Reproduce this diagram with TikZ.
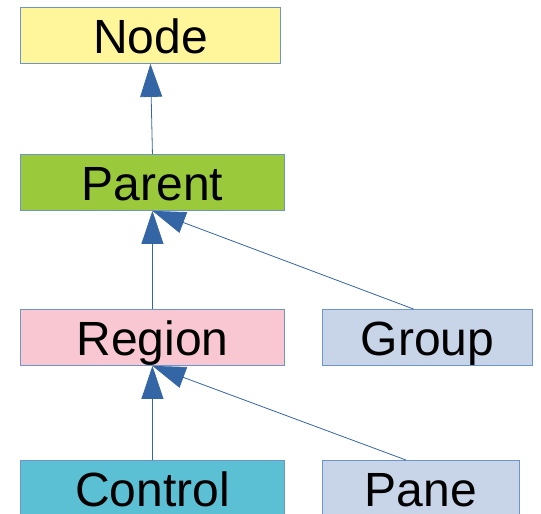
\documentclass[tikz,border=0pt]{standalone}
\usepackage{fontspec}
\setmainfont{Liberation Sans}
\usepackage{xcolor}
\usetikzlibrary{
    positioning,
    arrows.meta,
}
\definecolor{nodeYellow}{HTML}{FFF59A}
\definecolor{parentGreen}{HTML}{9ACA3C}
\definecolor{regionPink}{HTML}{F8C7D2}
\definecolor{paleBlue}{HTML}{C8D5E8}
\definecolor{controlCyan}{HTML}{5CC0D5}
\definecolor{boxBorder}{HTML}{6D95C7}
\definecolor{arrowBlue}{HTML}{3465A4}
\tikzset{
    classbox/.style={draw=boxBorder,line width=0.9pt,rectangle,
                     minimum height=56pt,inner sep=0pt,anchor=north west,
                     text height=46pt,text depth=10pt,
                     font=\fontsize{48}{56}\selectfont},
    inherits/.style={draw=arrowBlue,line width=0.8pt,
                     -{Triangle[length=33pt,width=22pt]}},
}
\begin{document}
\begin{tikzpicture}[x=1pt,y=-1pt]
    \pgfmathsetmacro\LeftX{20}
    \pgfmathsetmacro\RightX{322}
    %
    \useasboundingbox (0,0) rectangle (541,514);
    %
        % Riga 1
    \node[classbox,fill=nodeYellow,minimum width=260pt] (node) at (\LeftX,7) {Node};
    %
        % Riga 2
    \node[classbox,fill=parentGreen,minimum width=264pt] (parent) at (\LeftX,154) {Parent};
    %
        % Riga 3
    \node[classbox,fill=regionPink,minimum width=264pt] (region) at (\LeftX,309) {Region};
    \node[classbox,fill=paleBlue,minimum width=210pt] (group) at (\RightX,309) {Group};
    %
        % Riga 4
    \node[classbox,fill=controlCyan,minimum width=264pt] (control) at (\LeftX,460) {Control};
    \node[classbox,fill=paleBlue,minimum width=197pt] (pane) at (\RightX,460) {Pane};
    %
    %
        % Ereditarieta
    \draw[inherits] (parent.north) -- (node.south);
    \draw[inherits] (region.north) -- (parent.south);
    \draw[inherits] ([xshift=-14pt]group.north) -- (parent.south);
    \draw[inherits] (control.north) -- (region.south);
    \draw[inherits] ([xshift=-15pt]pane.north) -- (region.south);
\end{tikzpicture}
\end{document}
